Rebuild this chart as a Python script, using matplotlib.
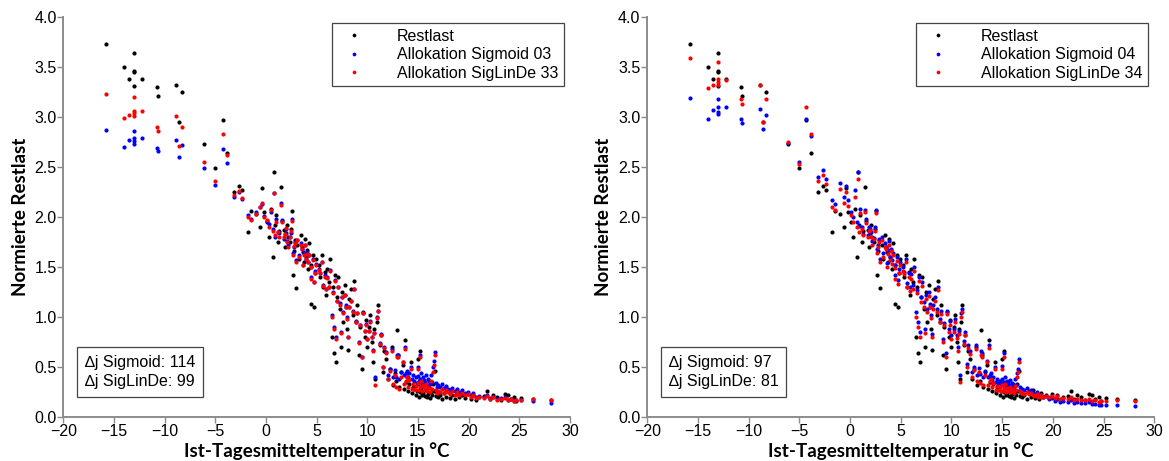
import matplotlib.pyplot as plt

# Tagesmitteltemperatur (gleiche Tage in beiden Diagrammen)
temp = [
    -15.8, -14.0, -13.5, -13.0, -13.0, -13.0, -13.0, -12.2, -10.8, -10.7, -8.9, -8.3, -8.6, -6.1, -5.0, -4.3, -3.9,
    -3.2, -2.7, -2.4, -1.8, -1.5, -1.0, -0.6, -0.4, -0.2,
    0.1, 0.3, 0.5, 0.7, 0.8, 0.9, 1.0, 1.2, 1.3, 1.5, 1.6, 1.8, 1.9, 2.0,
    2.1, 2.2, 2.4, 2.5, 2.6, 2.7, 2.8, 2.9, 3.0, 3.1, 3.2, 3.4, 3.5, 3.6, 3.7, 3.8, 3.9,
    4.0, 4.1, 4.2, 4.4, 4.4, 4.6, 4.7, 4.8, 4.9, 5.2, 5.3, 5.5, 5.6, 5.8, 5.9,
    6.0, 6.2, 6.3, 6.5, 6.6, 6.7, 6.8, 6.9, 7.0, 7.1, 7.3, 7.4, 7.5, 7.6, 7.8, 7.9,
    8.0, 8.1, 8.2, 8.4, 8.6, 8.7, 8.9, 9.0, 9.2, 9.3, 9.5, 9.6, 9.8, 9.9,
    10.0, 10.2, 10.3, 10.5, 10.6, 10.7, 10.8, 10.9, 11.0, 11.2, 11.3, 11.5, 11.6, 11.8,
    12.0, 12.2, 12.4, 12.5, 12.7, 12.8, 12.9, 13.0, 13.1, 13.3, 13.5, 13.6, 13.7, 13.8, 13.9,
    14.0, 14.1, 14.3, 14.4, 14.5, 14.6, 14.8, 14.9, 15.0, 15.0, 15.1, 15.2, 15.2, 15.3, 15.4, 15.5, 15.6,
    15.7, 15.8, 15.9, 16.0, 16.1, 16.2, 16.3, 16.4, 16.5, 16.6, 16.7, 16.8, 16.9,
    17.0, 17.2, 17.4, 17.6, 17.8, 18.0, 18.2, 18.4, 18.6, 18.8, 19.0, 19.3, 19.6, 19.9,
    20.2, 20.4, 20.7, 21.0, 21.5, 21.8, 22.1, 22.4, 22.8, 23.2, 23.6, 23.9, 24.2, 24.5, 24.7, 25.2, 26.3, 28.1,
]

restlast = [
    3.73, 3.50, 3.38, 3.64, 3.46, 3.45, 3.31, 3.38, 3.30, 3.21, 3.32, 3.25, 2.95, 2.73, 2.49, 2.97, 2.64,
    2.25, 2.31, 2.27, 1.85, 2.06, 2.03, 1.90, 2.29, 2.05,
    1.95, 1.80, 2.08, 1.60, 2.45, 1.92, 2.02, 1.75, 1.86, 2.30, 1.96, 1.87, 1.70, 1.84,
    1.92, 1.80, 1.75, 1.88, 2.06, 1.42, 1.66, 1.77, 1.29, 1.72, 1.58, 1.82, 1.70, 1.65, 1.55, 1.78, 1.60,
    1.67, 1.48, 1.74, 1.52, 1.13, 1.62, 1.10, 1.44, 1.58, 1.52, 1.40, 1.62, 1.30, 1.45, 1.22,
    1.48, 1.35, 1.58, 0.80, 1.30, 0.64, 1.42, 0.55, 1.20, 1.40, 1.08, 0.70, 1.25, 0.95, 1.32, 1.10,
    0.88, 0.67, 1.18, 1.28, 1.02, 1.36, 0.95, 1.12, 0.62, 0.90, 0.48, 1.05, 0.80, 0.97,
    0.70, 0.90, 1.02, 0.75, 0.55, 0.88, 0.38, 0.95, 1.12, 0.72, 0.82, 0.45, 0.66, 0.58,
    0.38, 0.48, 0.70, 0.32, 0.44, 0.36, 0.87, 0.62, 0.30, 0.45, 0.52, 0.28, 0.77, 0.35, 0.40,
    0.26, 0.33, 0.55, 0.24, 0.30, 0.28, 0.22, 0.26, 0.58, 0.33, 0.20, 0.25, 0.66, 0.29, 0.22, 0.24, 0.31,
    0.21, 0.27, 0.20, 0.23, 0.30, 0.19, 0.25, 0.22, 0.33, 0.26, 0.46, 0.21, 0.24,
    0.20, 0.22, 0.18, 0.24, 0.20, 0.27, 0.19, 0.22, 0.18, 0.24, 0.20, 0.22, 0.19, 0.23,
    0.18, 0.22, 0.17, 0.20, 0.21, 0.26, 0.18, 0.22, 0.20, 0.17, 0.23, 0.22, 0.18, 0.20, 0.16, 0.19, 0.18, 0.17,
]

sigmoid03 = [
    2.87, 2.70, 2.77, 2.86, 2.79, 2.76, 2.73, 2.79, 2.69, 2.66, 2.77, 2.72, 2.60, 2.49, 2.32, 2.68, 2.54,
    2.20, 2.25, 2.18, 2.02, 1.98, 2.05, 2.10, 2.13, 2.01,
    1.96, 1.93, 2.05, 1.88, 2.24, 1.80, 1.98, 1.85, 1.84, 2.14, 1.97, 1.78, 1.83, 1.88,
    1.76, 1.72, 1.80, 1.84, 1.98, 1.64, 1.70, 1.75, 1.57, 1.77, 1.62, 1.74, 1.68, 1.52, 1.64, 1.72, 1.58,
    1.65, 1.55, 1.62, 1.50, 1.40, 1.58, 1.35, 1.46, 1.53, 1.48, 1.44, 1.55, 1.32, 1.42, 1.28,
    1.40, 1.30, 1.47, 1.02, 1.25, 0.90, 1.37, 0.80, 1.16, 1.30, 1.14, 0.85, 1.20, 1.05, 1.22, 1.12,
    1.00, 0.80, 1.10, 1.16, 1.06, 1.28, 0.96, 1.04, 0.75, 0.92, 0.60, 1.04, 0.86, 0.93,
    0.78, 0.86, 0.96, 0.80, 0.67, 0.84, 0.40, 1.00, 1.06, 0.74, 0.83, 0.50, 0.70, 0.65,
    0.42, 0.48, 0.68, 0.40, 0.47, 0.40, 0.62, 0.62, 0.38, 0.45, 0.55, 0.42, 0.70, 0.44, 0.46,
    0.40, 0.44, 0.50, 0.38, 0.42, 0.36, 0.40, 0.34, 0.50, 0.41, 0.36, 0.38, 0.62, 0.44, 0.33, 0.40, 0.37,
    0.35, 0.42, 0.32, 0.38, 0.36, 0.33, 0.42, 0.35, 0.50, 0.56, 0.65, 0.34, 0.30,
    0.32, 0.30, 0.33, 0.29, 0.31, 0.28, 0.27, 0.29, 0.26, 0.28, 0.25, 0.27, 0.24, 0.25,
    0.22, 0.24, 0.20, 0.21, 0.20, 0.22, 0.19, 0.20, 0.18, 0.19, 0.20, 0.17, 0.18, 0.16, 0.17, 0.17, 0.16, 0.14,
]

siglinde33 = [
    3.23, 2.99, 3.02, 3.20, 3.06, 3.04, 3.01, 3.06, 2.90, 2.86, 3.01, 2.90, 2.71, 2.55, 2.36, 2.83, 2.62,
    2.22, 2.26, 2.19, 2.00, 1.97, 2.03, 2.10, 2.14, 2.00,
    1.97, 1.90, 2.07, 1.86, 2.24, 1.82, 1.95, 1.85, 1.80, 2.12, 1.95, 1.80, 1.83, 1.89,
    1.75, 1.70, 1.80, 1.86, 1.96, 1.62, 1.71, 1.74, 1.55, 1.77, 1.60, 1.72, 1.68, 1.52, 1.62, 1.72, 1.58,
    1.63, 1.55, 1.62, 1.50, 1.38, 1.57, 1.35, 1.44, 1.52, 1.47, 1.44, 1.55, 1.31, 1.40, 1.28,
    1.39, 1.30, 1.46, 1.00, 1.24, 0.88, 1.36, 0.78, 1.16, 1.30, 1.12, 0.84, 1.20, 1.04, 1.22, 1.10,
    0.98, 0.80, 1.10, 1.16, 1.05, 1.28, 0.95, 1.04, 0.74, 0.92, 0.60, 1.04, 0.86, 0.92,
    0.78, 0.86, 0.95, 0.80, 0.66, 0.84, 0.32, 0.99, 1.06, 0.73, 0.82, 0.50, 0.69, 0.64,
    0.38, 0.46, 0.66, 0.33, 0.42, 0.30, 0.60, 0.60, 0.28, 0.40, 0.55, 0.33, 0.68, 0.36, 0.40,
    0.30, 0.37, 0.48, 0.28, 0.33, 0.28, 0.31, 0.27, 0.48, 0.34, 0.27, 0.30, 0.60, 0.36, 0.26, 0.32, 0.30,
    0.28, 0.33, 0.26, 0.30, 0.29, 0.25, 0.36, 0.28, 0.45, 0.52, 0.62, 0.27, 0.24,
    0.26, 0.25, 0.28, 0.24, 0.27, 0.25, 0.23, 0.26, 0.22, 0.25, 0.22, 0.24, 0.22, 0.23,
    0.20, 0.22, 0.19, 0.20, 0.19, 0.21, 0.18, 0.20, 0.17, 0.18, 0.19, 0.17, 0.18, 0.16, 0.17, 0.17, 0.18, 0.17,
]

sigmoid04 = [
    3.19, 2.98, 3.07, 3.18, 3.10, 3.05, 3.03, 3.10, 2.98, 2.94, 3.08, 3.02, 2.88, 2.74, 2.55, 2.98, 2.81,
    2.40, 2.47, 2.38, 2.17, 2.13, 2.34, 2.20, 2.31, 2.17,
    2.05, 2.00, 2.27, 1.95, 2.45, 1.91, 2.08, 1.90, 1.83, 2.07, 1.98, 1.82, 1.90, 1.88,
    1.85, 1.76, 1.79, 1.90, 2.07, 1.68, 1.72, 1.78, 1.58, 1.80, 1.64, 1.74, 1.70, 1.54, 1.67, 1.76, 1.60,
    1.68, 1.57, 1.64, 1.52, 1.42, 1.60, 1.37, 1.48, 1.55, 1.50, 1.45, 1.58, 1.34, 1.44, 1.30,
    1.43, 1.32, 1.50, 1.05, 1.27, 0.95, 1.40, 0.85, 1.20, 1.35, 1.15, 0.88, 1.22, 1.08, 1.25, 1.13,
    1.02, 0.83, 1.12, 1.20, 1.08, 1.30, 0.98, 1.06, 0.78, 0.94, 0.64, 1.06, 0.88, 0.96,
    0.82, 0.88, 0.98, 0.82, 0.70, 0.86, 0.42, 1.04, 1.08, 0.76, 0.85, 0.53, 0.72, 0.66,
    0.45, 0.50, 0.72, 0.42, 0.49, 0.43, 0.66, 0.64, 0.40, 0.46, 0.56, 0.40, 0.72, 0.42, 0.44,
    0.37, 0.40, 0.50, 0.35, 0.38, 0.34, 0.36, 0.32, 0.51, 0.38, 0.33, 0.35, 0.64, 0.40, 0.31, 0.36, 0.34,
    0.32, 0.37, 0.30, 0.34, 0.33, 0.30, 0.38, 0.32, 0.44, 0.48, 0.58, 0.30, 0.28,
    0.28, 0.27, 0.29, 0.26, 0.27, 0.24, 0.23, 0.25, 0.22, 0.22, 0.20, 0.21, 0.18, 0.19,
    0.16, 0.18, 0.15, 0.16, 0.15, 0.17, 0.14, 0.15, 0.14, 0.14, 0.15, 0.13, 0.13, 0.12, 0.12, 0.12, 0.12, 0.11,
]

siglinde34 = [
    3.59, 3.29, 3.32, 3.55, 3.38, 3.35, 3.32, 3.37, 3.18, 3.13, 3.32, 3.18, 2.95, 2.75, 2.53, 3.10, 2.83,
    2.36, 2.42, 2.33, 2.10, 2.07, 2.28, 2.14, 2.25, 2.11,
    2.02, 1.95, 2.20, 1.90, 2.38, 1.85, 2.04, 1.88, 1.82, 2.05, 1.94, 1.80, 1.86, 1.87,
    1.80, 1.72, 1.78, 1.86, 2.04, 1.64, 1.70, 1.75, 1.55, 1.77, 1.60, 1.70, 1.68, 1.50, 1.63, 1.72, 1.57,
    1.66, 1.53, 1.62, 1.49, 1.38, 1.56, 1.33, 1.44, 1.52, 1.46, 1.43, 1.55, 1.30, 1.40, 1.26,
    1.38, 1.28, 1.46, 1.00, 1.24, 0.90, 1.36, 0.80, 1.15, 1.31, 1.10, 0.84, 1.18, 1.05, 1.21, 1.10,
    0.99, 0.80, 1.08, 1.16, 1.05, 1.27, 0.95, 1.03, 0.75, 0.92, 0.60, 1.03, 0.85, 0.92,
    0.78, 0.85, 0.95, 0.79, 0.66, 0.83, 0.35, 1.00, 1.05, 0.73, 0.82, 0.50, 0.69, 0.63,
    0.40, 0.47, 0.68, 0.36, 0.45, 0.34, 0.62, 0.60, 0.32, 0.42, 0.55, 0.32, 0.69, 0.36, 0.38,
    0.30, 0.34, 0.48, 0.27, 0.31, 0.27, 0.30, 0.26, 0.48, 0.32, 0.26, 0.29, 0.60, 0.33, 0.25, 0.29, 0.28,
    0.26, 0.30, 0.25, 0.28, 0.27, 0.24, 0.31, 0.27, 0.40, 0.45, 0.55, 0.26, 0.24,
    0.24, 0.23, 0.25, 0.23, 0.24, 0.22, 0.21, 0.23, 0.20, 0.22, 0.20, 0.21, 0.20, 0.21,
    0.19, 0.21, 0.18, 0.19, 0.18, 0.20, 0.17, 0.18, 0.17, 0.17, 0.18, 0.16, 0.17, 0.15, 0.16, 0.16, 0.17, 0.16,
]

panels = [
    (sigmoid03, siglinde33, "Allokation Sigmoid 03", "Allokation SigLinDe 33", "\u2206j Sigmoid: 114\n\u2206j SigLinDe: 99"),
    (sigmoid04, siglinde34, "Allokation Sigmoid 04", "Allokation SigLinDe 34", "\u2206j Sigmoid: 97\n\u2206j SigLinDe: 81"),
]

plt.rcParams['font.family'] = ['Liberation Sans', 'DejaVu Sans']
fig = plt.figure(figsize=(11.69, 4.61), dpi=100)
positions = [[0.0543, 0.0955, 0.4333, 0.867], [0.5537, 0.0955, 0.4337, 0.867]]
spine_col = "#8c8c8c"

for pos, (sig, sld, lab_sig, lab_sld, info) in zip(positions, panels):
    ax = fig.add_axes(pos)
    ax.plot(temp, restlast, 'o', color='black', ms=3.0, mew=0, label="Restlast")
    ax.plot(temp, sig, 'o', color='blue', ms=3.0, mew=0, label=lab_sig)
    ax.plot(temp, sld, 'o', color='red', ms=3.0, mew=0, label=lab_sld)

    ax.set_xlim(-20, 30)
    ax.set_ylim(0, 4)
    ax.set_xticks(range(-20, 31, 5))
    ax.set_yticks([i * 0.5 for i in range(9)])
    ax.set_yticklabels([f"{i * 0.5:.1f}" for i in range(9)])
    for s in ["top", "right"]:
        ax.spines[s].set_visible(False)
    for s in ["left", "bottom"]:
        ax.spines[s].set_color(spine_col)
        ax.spines[s].set_linewidth(1.4)
    ax.tick_params(direction='out', length=4, width=1, color=spine_col, labelsize=11.5, pad=1)

    ax.set_xlabel("Ist-Tagesmitteltemperatur in °C", fontsize=13.5, fontweight='bold',
                  family=['Lato', 'DejaVu Sans'], labelpad=2)
    ax.set_ylabel("Normierte Restlast", fontsize=13.5, fontweight='bold',
                  family=['Lato', 'DejaVu Sans'], labelpad=4)

    leg = ax.legend(loc='upper right', bbox_to_anchor=(0.988, 0.985), fontsize=11.5,
                    fancybox=False, framealpha=1, edgecolor='#444444', markerscale=0.9,
                    handlelength=2.0, handletextpad=1.7, borderpad=0.35, labelspacing=0.22,
                    borderaxespad=0)
    leg.get_frame().set_linewidth(0.9)

    ax.text(0.042, 0.07, info, transform=ax.transAxes, fontsize=11.5, va='bottom', ha='left',
            linespacing=1.3,
            bbox=dict(boxstyle='square,pad=0.5', fc='white', ec='#444444', lw=0.9))

fig.savefig("out.png", dpi=100)
